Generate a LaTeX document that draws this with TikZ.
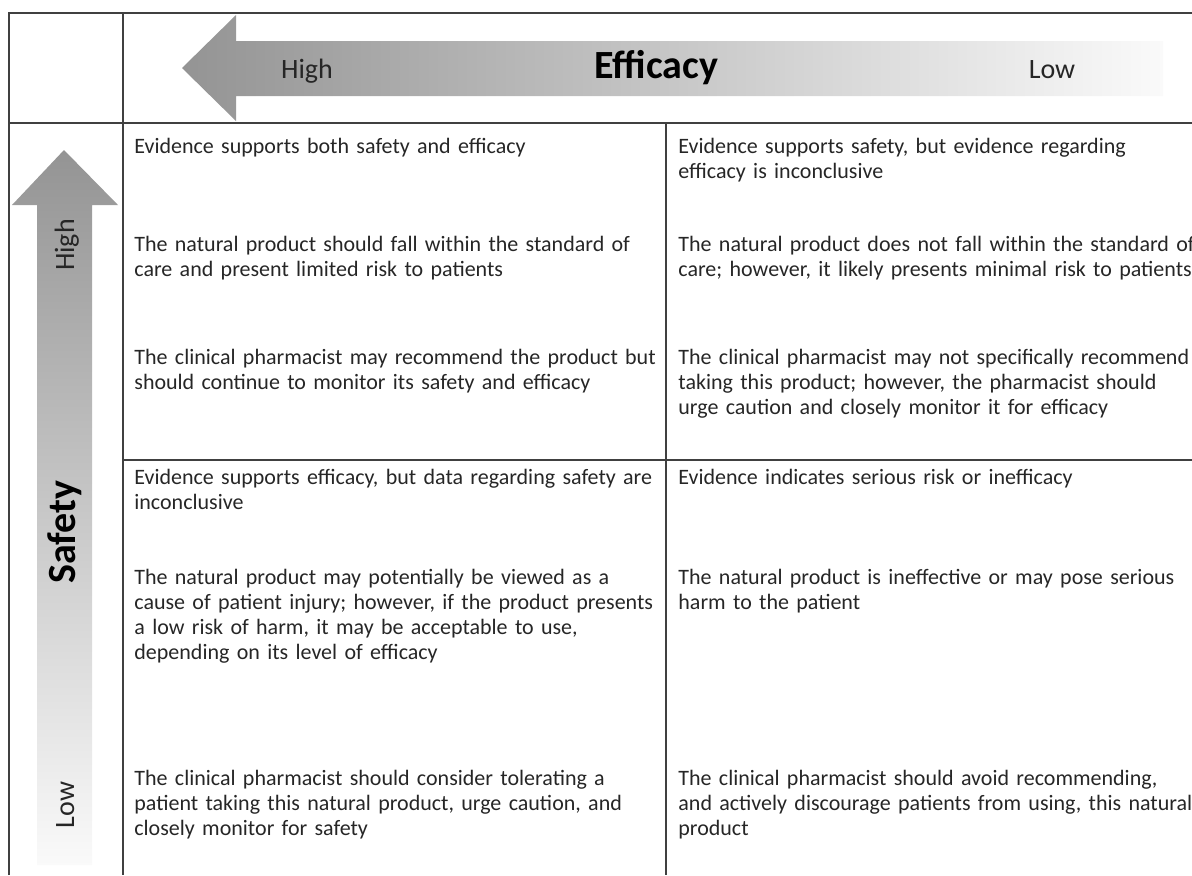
\documentclass[tikz,border=0pt]{standalone}
\usepackage{fontspec}
\setmainfont{Carlito}
\tikzset{
    gridline/.style={draw=black!75, line width=0.6pt},
    celltext/.style={anchor=base west, text width=300pt, align=left, inner sep=0pt,
        text=black!85, font=\fontsize{11}{12.5}\selectfont},
    axislabel/.style={anchor=base, inner sep=0pt, text=black!85,
        font=\fontsize{14}{16}\selectfont},
    axistitle/.style={anchor=base, inner sep=0pt, text=black,
        font=\bfseries\fontsize{20}{24}\selectfont},
}

\begin{document}
\begin{tikzpicture}[x=0.5pt,y=-0.5pt]
\useasboundingbox (0,0) rectangle (1192,875);

% efficacy arrow (pointing left) and safety arrow (pointing up)
\shade[left color=black!42, right color=black!2]
    (182,68) -- (236,15) -- (236,41) -- (1163,41) -- (1163,96) -- (236,96) -- (236,121) -- cycle;
\shade[top color=black!42, bottom color=black!2]
    (64,150) -- (118,205) -- (92,205) -- (92,865) -- (37,865) -- (37,205) -- (12,205) -- cycle;

% table rules
\draw[gridline] (9,875) -- (9,13) -- (1192,13);
\draw[gridline] (123,13) -- (123,875);
\draw[gridline] (9,123) -- (1192,123);
\draw[gridline] (666,123) -- (666,875);
\draw[gridline] (123,460) -- (1192,460);

% axis labels
\node[axistitle] (efficacy) at (656,78) {Efficacy};
\node[axislabel] (effhigh) at (307,78) {High};
\node[axislabel] (efflow) at (1052,78) {Low};
\node[axistitle, rotate=90] (safety) at (75,532) {Safety};
\node[axislabel, rotate=90] (safhigh) at (74,245) {High};
\node[axislabel, rotate=90] (saflow) at (74,805) {Low};

% high safety, high efficacy
\node[celltext] (hhA) at (134,153) {Evidence supports both safety and efficacy};
\node[celltext] (hhB) at (134,251) {The natural product should fall within the standard of\\
    care and present limited risk to patients};
\node[celltext] (hhC) at (134,364) {The clinical pharmacist may recommend the product but\\
    should continue to monitor its safety and efficacy};

% high safety, low efficacy
\node[celltext] (hlA) at (678,153) {Evidence supports safety, but evidence regarding\\
    efficacy is inconclusive};
\node[celltext] (hlB) at (678,251) {The natural product does not fall within the standard of\\
    care; however, it likely presents minimal risk to patients};
\node[celltext] (hlC) at (678,364) {The clinical pharmacist may not specifically recommend\\
    taking this product; however, the pharmacist should\\
    urge caution and closely monitor it for efficacy};

% low safety, high efficacy
\node[celltext] (lhA) at (134,484) {Evidence supports efficacy, but data regarding safety are\\
    inconclusive};
\node[celltext] (lhB) at (134,584) {The natural product may potentially be viewed as a\\
    cause of patient injury; however, if the product presents\\
    a low risk of harm, it may be acceptable to use,\\
    depending on its level of efficacy};
\node[celltext] (lhC) at (134,785) {The clinical pharmacist should consider tolerating a\\
    patient taking this natural product, urge caution, and\\
    closely monitor for safety};

% low safety, low efficacy
\node[celltext] (llA) at (678,484) {Evidence indicates serious risk or inefficacy};
\node[celltext] (llB) at (678,584) {The natural product is ineffective or may pose serious\\
    harm to the patient};
\node[celltext] (llC) at (678,785) {The clinical pharmacist should avoid recommending,\\
    and actively discourage patients from using, this natural\\
    product};
\end{tikzpicture}
\end{document}
